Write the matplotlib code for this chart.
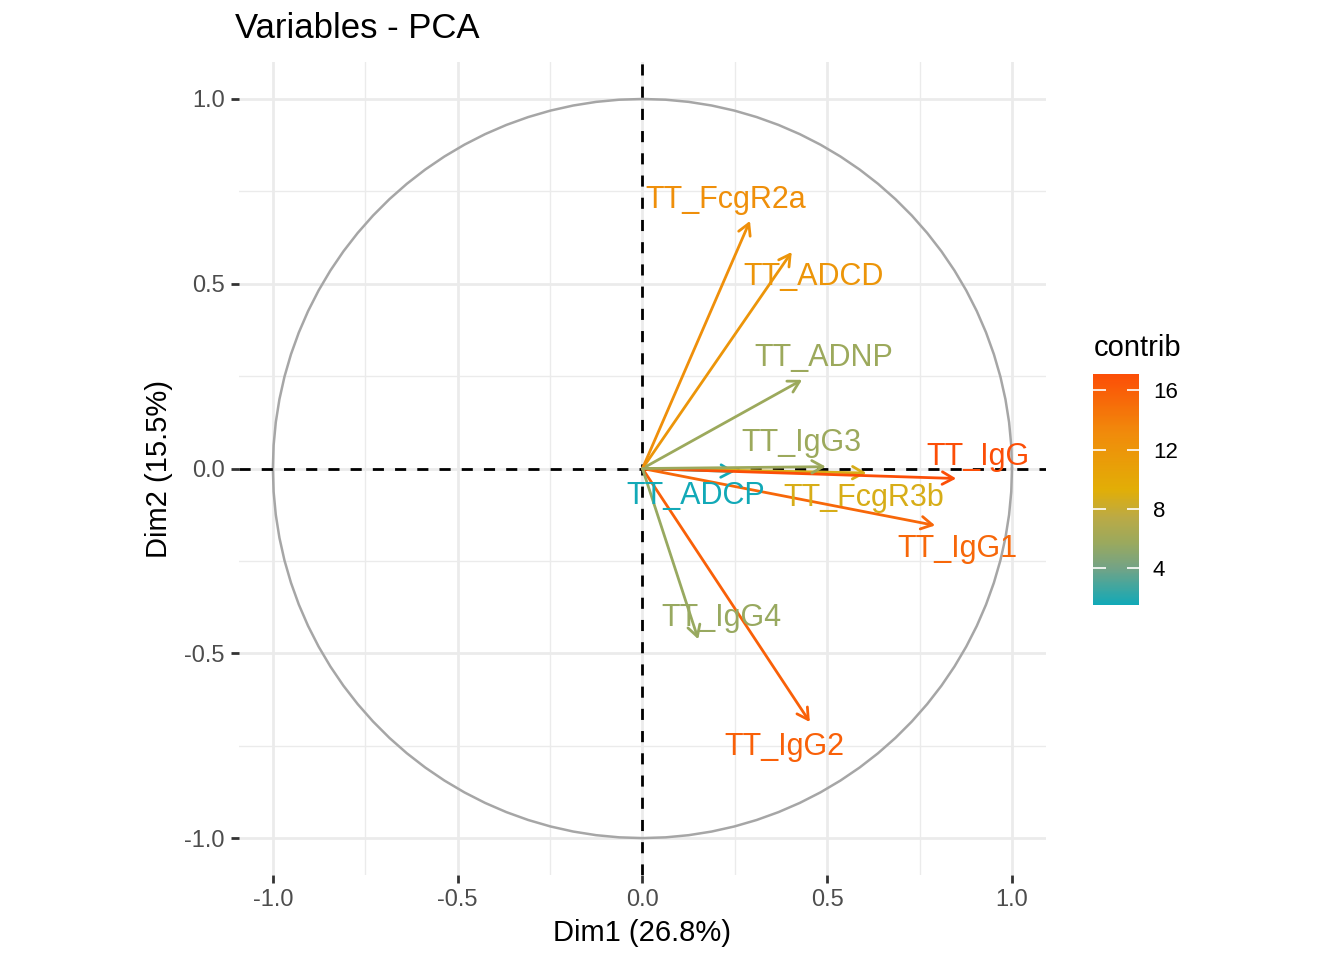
import numpy as np
import matplotlib
matplotlib.use('Agg')
import matplotlib.pyplot as plt
from matplotlib.colors import LinearSegmentedColormap, Normalize
from matplotlib.cm import ScalarMappable

plt.rcParams['font.family'] = ['Liberation Sans', 'DejaVu Sans']

# PCA variable coordinates (Dim1, Dim2) and contribution
VARS = ["TT_ADCD", "TT_ADCP", "TT_ADNP", "TT_FcgR2a", "TT_FcgR3b",
        "TT_IgG", "TT_IgG1", "TT_IgG2", "TT_IgG3", "TT_IgG4"]
DIM1 = [0.404, 0.250, 0.432, 0.291, 0.606, 0.849, 0.792, 0.453, 0.496, 0.151]
DIM2 = [0.586, -0.008, 0.240, 0.670, -0.012, -0.027, -0.154, -0.686, 0.005, -0.462]
CONTRIB = [12.0, 1.5, 5.8, 12.6, 8.8, 17.1, 15.4, 15.9, 5.8, 5.6]

# where the (repelled) labels ended up
LAB_X = [0.464, 0.143, 0.490, 0.226, 0.598, 0.908, 0.852, 0.385, 0.430, 0.213]
LAB_Y = [0.518, -0.075, 0.298, 0.727, -0.080, 0.030, -0.218, -0.753, 0.070, -0.405]

XLAB = "Dim1 (26.8%)"
YLAB = "Dim2 (15.5%)"
TITLE = "Variables - PCA"

cmap = LinearSegmentedColormap.from_list(
    'contrib', [(0.0, '#12A9B7'), (0.16, '#74A385'), (0.27, '#9BA95D'),
                (0.38, '#BBAA45'), (0.5, '#E2AE06'), (0.75, '#F18A0B'),
                (1.0, '#FC4E07')])
norm = Normalize(min(CONTRIB), max(CONTRIB))

fig = plt.figure(figsize=(13.44, 9.6), dpi=100)
ax = fig.add_axes([0.1763, 0.0885, 0.6034, 0.8469])
ax.set_xlim(-1.093, 1.093)
ax.set_ylim(-1.1, 1.1)
ax.set_aspect('equal')

for s in ax.spines.values():
    s.set_visible(False)
ax.set_xticks([-1.0, -0.5, 0.0, 0.5, 1.0])
ax.set_yticks([-1.0, -0.5, 0.0, 0.5, 1.0])
ax.set_xticks([-0.75, -0.25, 0.25, 0.75], minor=True)
ax.set_yticks([-0.75, -0.25, 0.25, 0.75], minor=True)
ax.set_xticklabels(['-1.0', '-0.5', '0.0', '0.5', '1.0'])
ax.set_yticklabels(['-1.0', '-0.5', '0.0', '0.5', '1.0'])
ax.grid(True, which='major', color='#EBEBEB', lw=2.0, zorder=0)
ax.grid(True, which='minor', color='#EBEBEB', lw=1.0, zorder=0)
ax.set_axisbelow(True)
ax.tick_params(which='major', length=6, width=2.0, color='#333333',
               labelsize=17, labelcolor='#4D4D4D', pad=4)
ax.tick_params(which='minor', length=0)

# correlation circle
t = np.linspace(0, 2 * np.pi, 101)
ax.plot(np.cos(t), np.sin(t), color='#A6A6A6', lw=1.8, zorder=2)
ax.axhline(0, color='black', ls=(0, (4, 4)), lw=2.0, zorder=2)
ax.axvline(0, color='black', ls=(0, (4, 4)), lw=2.0, zorder=2)

for name, x, y, c in zip(VARS, DIM1, DIM2, CONTRIB):
    col = cmap(norm(c))
    ax.annotate('', xy=(x, y), xytext=(0, 0),
                arrowprops=dict(arrowstyle='->,head_length=0.8,head_width=0.45',
                                color=col, lw=2.0, shrinkA=0, shrinkB=0),
                zorder=3)
for name, c, lx, ly in zip(VARS, CONTRIB, LAB_X, LAB_Y):
    ax.text(lx, ly, name, color=cmap(norm(c)), fontsize=22,
            ha='center', va='center', zorder=4)

ax.set_xlabel(XLAB, fontsize=21, labelpad=6)
ax.set_ylabel(YLAB, fontsize=21, labelpad=8)
fig.text(235 / 1344, 1 - 28 / 960, TITLE, fontsize=25, ha='left', va='center')

# colour bar
cax = fig.add_axes([0.8132, 0.3698, 0.0342, 0.2406])
cb = fig.colorbar(ScalarMappable(norm=norm, cmap=cmap), cax=cax)
cb.outline.set_visible(False)
cb.set_ticks([4, 8, 12, 16])
cax.tick_params(direction='in', length=9, width=1.2, color='white',
                left=True, right=True, labelsize=16, labelcolor='black', pad=10)
fig.text(1094 / 1344, 1 - 348 / 960, 'contrib', fontsize=21,
         ha='left', va='center')

fig.savefig('out.png', dpi=100, facecolor='white')
